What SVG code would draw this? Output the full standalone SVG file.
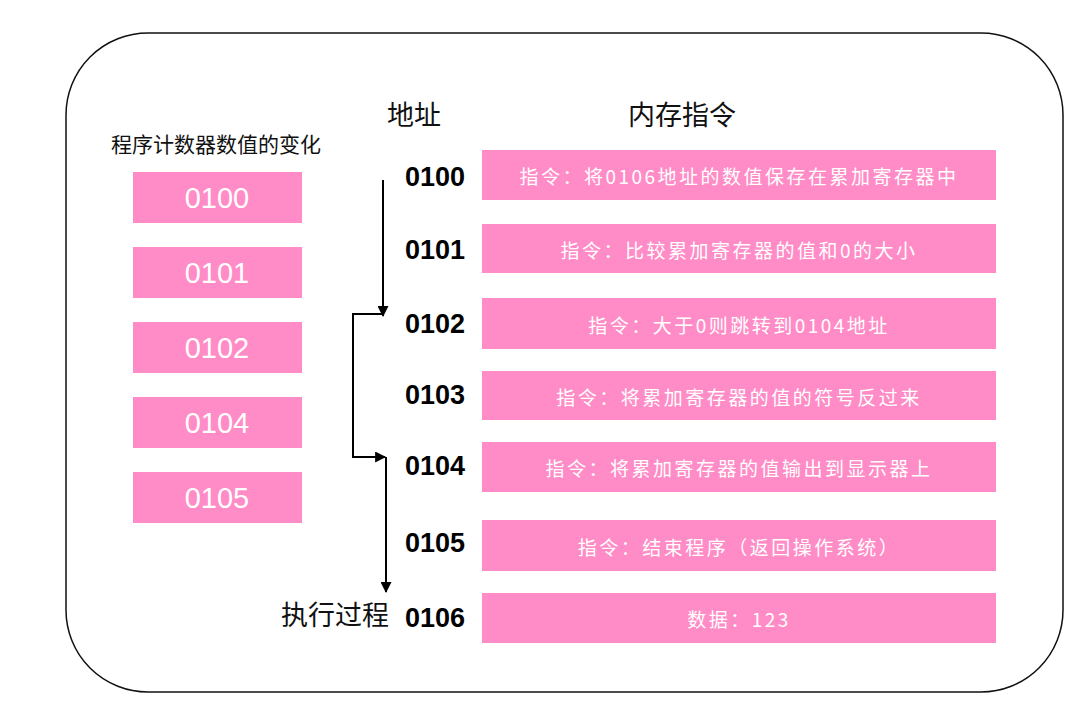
<svg xmlns="http://www.w3.org/2000/svg" width="1080" height="724" viewBox="0 0 1080 724">
<defs>
<marker id="ah" viewBox="0 0 10 10" refX="9" refY="5" markerWidth="13" markerHeight="11" orient="auto" markerUnits="userSpaceOnUse">
<path d="M0,0 L10,5 L0,10 z" fill="#000"/>
</marker>
<style>
.box{fill:#FF8CC6;}
.pc{font-family:"Liberation Sans","Noto Sans CJK SC",sans-serif;font-size:29px;fill:#fff;text-anchor:middle;dominant-baseline:central;}
.ins{font-family:"Noto Sans CJK SC",sans-serif;font-size:19px;letter-spacing:2.5px;fill:#fff;text-anchor:middle;dominant-baseline:central;}
.addr{font-family:"Liberation Sans",sans-serif;font-size:27px;font-weight:bold;fill:#000;dominant-baseline:central;}
.hd{font-family:"Noto Sans CJK SC",sans-serif;fill:#111;dominant-baseline:central;}
.ln{stroke:#000;stroke-width:2;fill:none;}
</style>
</defs>
<rect x="0" y="0" width="1080" height="724" fill="#fff"/>
<rect x="66" y="33" width="997" height="659" rx="82" ry="82" fill="none" stroke="#111" stroke-width="1.5"/>
<text class="hd" x="216" y="143" font-size="21" text-anchor="middle">程序计数器数值的变化</text>
<text class="hd" x="414" y="113" font-size="27" text-anchor="middle">地址</text>
<text class="hd" x="682" y="113" font-size="27" text-anchor="middle">内存指令</text>
<text class="hd" x="335" y="613" font-size="27" text-anchor="middle">执行过程</text>
<g id="pc0100"><rect class="box" x="133" y="172" width="169" height="51"/><text class="pc" x="217" y="198">0100</text></g>
<g id="pc0101"><rect class="box" x="133" y="247" width="169" height="51"/><text class="pc" x="217" y="273">0101</text></g>
<g id="pc0102"><rect class="box" x="133" y="322" width="169" height="51"/><text class="pc" x="217" y="348">0102</text></g>
<g id="pc0104"><rect class="box" x="133" y="397" width="169" height="51"/><text class="pc" x="217" y="423">0104</text></g>
<g id="pc0105"><rect class="box" x="133" y="472" width="169" height="51"/><text class="pc" x="217" y="498">0105</text></g>
<g id="m0100"><text class="addr" x="405" y="177">0100</text><rect class="box" x="482" y="150" width="514" height="50"/><text class="ins" x="739" y="175">指令：将0106地址的数值保存在累加寄存器中</text></g>
<g id="m0101"><text class="addr" x="405" y="250">0101</text><rect class="box" x="482" y="224" width="514" height="49"/><text class="ins" x="739" y="249">指令：比较累加寄存器的值和0的大小</text></g>
<g id="m0102"><text class="addr" x="405" y="324">0102</text><rect class="box" x="482" y="298" width="514" height="51"/><text class="ins" x="739" y="324">指令：大于0则跳转到0104地址</text></g>
<g id="m0103"><text class="addr" x="405" y="395">0103</text><rect class="box" x="482" y="371" width="514" height="49"/><text class="ins" x="739" y="396">指令：将累加寄存器的值的符号反过来</text></g>
<g id="m0104"><text class="addr" x="405" y="466">0104</text><rect class="box" x="482" y="442" width="514" height="50"/><text class="ins" x="739" y="467">指令：将累加寄存器的值输出到显示器上</text></g>
<g id="m0105"><text class="addr" x="405" y="543">0105</text><rect class="box" x="482" y="520" width="514" height="51"/><text class="ins" x="739" y="546">指令：结束程序（返回操作系统）</text></g>
<g id="m0106"><text class="addr" x="405" y="618">0106</text><rect class="box" x="482" y="593" width="514" height="50"/><text class="ins" x="739" y="618">数据：123</text></g>
<g id="connectors">
<line class="ln" x1="383" y1="180" x2="383" y2="316" marker-end="url(#ah)"/>
<polyline class="ln" points="383,314 353,314 353,457 385,457" marker-end="url(#ah)"/>
<line class="ln" x1="386" y1="457" x2="386" y2="592" marker-end="url(#ah)"/>
</g>
</svg>
